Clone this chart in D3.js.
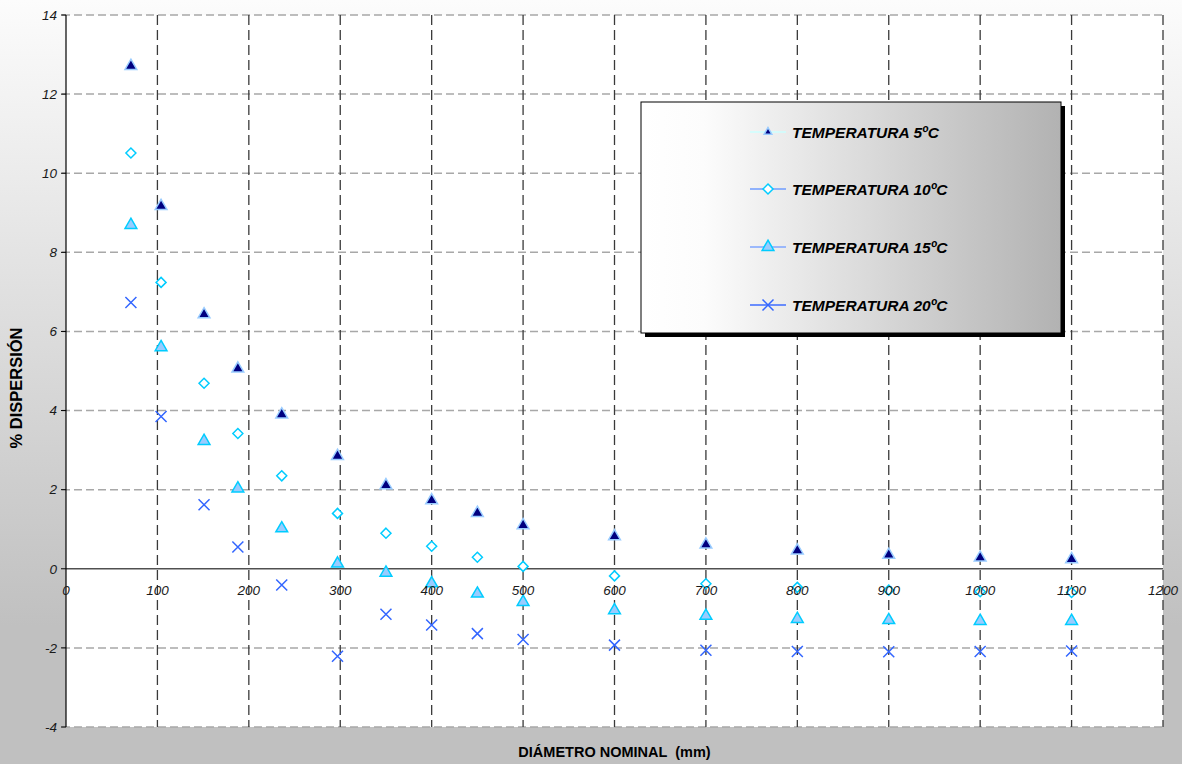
<!DOCTYPE html>
<html>
<head>
<meta charset="utf-8">
<script src="https://cdn.jsdelivr.net/npm/d3@7"></script>
<style>
  body { margin: 0; padding: 0; }
  svg { display: block; font-family: "Liberation Sans", Arial, sans-serif; }
</style>
</head>
<body>
<div class="chart"></div>
<script>
// Data
const diametros = [71, 104, 151, 188, 236, 297, 350, 400, 450, 500, 600, 700, 800, 900, 1000, 1100];
const temp5  = [12.71, 9.17, 6.43, 5.06, 3.90, 2.85, 2.11, 1.73, 1.41, 1.10, 0.82, 0.61, 0.46, 0.35, 0.28, 0.24];
const temp10 = [10.51, 7.24, 4.69, 3.42, 2.35, 1.40, 0.90, 0.57, 0.29, 0.06, -0.18, -0.38, -0.47, -0.54, -0.58, -0.60];
const temp15 = [8.69, 5.60, 3.23, 2.03, 1.02, 0.13, -0.10, -0.37, -0.63, -0.84, -1.05, -1.19, -1.27, -1.30, -1.32, -1.32];
const temp20 = [6.73, 3.85, 1.62, 0.55, -0.41, -2.21, -1.15, -1.42, -1.64, -1.79, -1.93, -2.06, -2.09, -2.10, -2.09, -2.08];
const seriesNames = ['TEMPERATURA 5ºC', 'TEMPERATURA 10ºC', 'TEMPERATURA 15ºC', 'TEMPERATURA 20ºC'];
const xTicks = [0, 100, 200, 300, 400, 500, 600, 700, 800, 900, 1000, 1100, 1200];
const yTicks = [-4, -2, 0, 2, 4, 6, 8, 10, 12, 14];

const W = 1182, H = 764;
const margin = { top: 15, right: 19, bottom: 37, left: 66 };
const width = W - margin.left - margin.right;
const height = H - margin.top - margin.bottom;

const x = d3.scaleLinear([0, 1200], [0, width]);
const y = d3.scaleLinear([-4, 14], [height, 0]);

// Custom symbols
const symbolCross = {
    draw(ctx, size) {
        const r = Math.sqrt(size) / 2;
        ctx.moveTo(-r, -r); ctx.lineTo(r, r);
        ctx.moveTo(r, -r); ctx.lineTo(-r, r);
    }
};
const symbolRhomb = {
    draw(ctx, size) {
        const r = Math.sqrt(size) / 2;
        ctx.moveTo(0, -r); ctx.lineTo(r, 0); ctx.lineTo(0, r); ctx.lineTo(-r, 0); ctx.closePath();
    }
};

const styles = [
    { type: d3.symbolTriangle, size: 60, legendSize: 26, fill: '#000080', stroke: '#99ccff', line: '#ccffff' },
    { type: symbolRhomb, size: 100, legendSize: 100, fill: '#ffffff', stroke: '#00ccff', line: '#6f9cff' },
    { type: d3.symbolTriangle, size: 60, legendSize: 60, fill: '#99ccff', stroke: '#00ccff', line: '#7fa6ff' },
    { type: symbolCross, size: 121, legendSize: 121, fill: 'none', stroke: '#3366ff', line: '#3d6bff' }
];
const values = [temp5, temp10, temp15, temp20];
const series = seriesNames.map((name, i) => ({
    name, style: styles[i],
    points: diametros.map((d, j) => ({ d, v: values[i][j] }))
}));

const root = d3.select('.chart').append('svg')
    .attr('width', W)
    .attr('height', H);

const defs = root.append('defs');
const bg = defs.append('linearGradient').attr('id', 'bg')
    .attr('x1', 0).attr('y1', 0).attr('x2', 0).attr('y2', 1);
bg.append('stop').attr('offset', 0).attr('stop-color', '#fcfcfc');
bg.append('stop').attr('offset', 0.82).attr('stop-color', '#c0c0c0');
bg.append('stop').attr('offset', 1).attr('stop-color', '#c0c0c0');

const lg = defs.append('linearGradient').attr('id', 'lg')
    .attr('x1', 0).attr('y1', 0).attr('x2', 1).attr('y2', 0);
lg.append('stop').attr('offset', 0).attr('stop-color', '#ffffff');
lg.append('stop').attr('offset', 0.15).attr('stop-color', '#fcfcfc');
lg.append('stop').attr('offset', 1).attr('stop-color', '#b2b2b2');

root.append('rect').attr('width', W).attr('height', H).attr('fill', 'url(#bg)');

const svg = root.append('g')
    .attr('transform', `translate(${margin.left}, ${margin.top})`);

svg.append('rect')
    .attr('width', width)
    .attr('height', height)
    .attr('fill', '#ffffff');

// Horizontal grid
svg.selectAll('.hgrid')
    .data(yTicks.filter(d => d !== 0))
    .enter()
    .append('line')
    .attr('class', 'hgrid')
    .attr('x1', -4)
    .attr('x2', width)
    .attr('y1', d => y(d))
    .attr('y2', d => y(d))
    .attr('stroke', '#a8a8a8')
    .attr('stroke-width', 1.5)
    .attr('stroke-dasharray', '8,4');

// Vertical grid
svg.selectAll('.vgrid')
    .data(xTicks.filter(d => d !== 0))
    .enter()
    .append('line')
    .attr('class', 'vgrid')
    .attr('x1', d => x(d))
    .attr('x2', d => x(d))
    .attr('y1', 0)
    .attr('y2', height)
    .attr('stroke', '#3a3a3a')
    .attr('stroke-width', 1.3)
    .attr('stroke-dasharray', '10,5');

// Zero line
svg.append('line')
    .attr('x1', 0).attr('x2', width)
    .attr('y1', y(0)).attr('y2', y(0))
    .attr('stroke', '#505050')
    .attr('stroke-width', 1.5);

// Y axis line + ticks
svg.append('line')
    .attr('x1', 0).attr('x2', 0)
    .attr('y1', 0).attr('y2', height)
    .attr('stroke', '#000000')
    .attr('stroke-width', 1.2);
svg.selectAll('.ytick')
    .data(yTicks)
    .enter()
    .append('line')
    .attr('x1', -5).attr('x2', 0)
    .attr('y1', d => y(d)).attr('y2', d => y(d))
    .attr('stroke', '#000000');

// Points
series.forEach(s => {
    svg.append('g')
        .selectAll('path')
        .data(s.points)
        .enter()
        .append('path')
        .attr('transform', p => `translate(${x(p.d)}, ${y(p.v)})`)
        .attr('d', d3.symbol(s.style.type, s.style.size))
        .attr('fill', s.style.fill)
        .attr('stroke', s.style.stroke)
        .attr('stroke-width', 1.5);
});

// Tick labels (drawn above the points, as in the original)
svg.selectAll('.xlabel')
    .data(xTicks)
    .enter()
    .append('text')
    .attr('x', d => x(d))
    .attr('y', y(0) + 26)
    .attr('text-anchor', 'middle')
    .attr('font-size', 13.5)
    .attr('font-style', 'italic')
    .attr('fill', '#1a1a1a')
    .text(d => d);

svg.selectAll('.ylabel')
    .data(yTicks)
    .enter()
    .append('text')
    .attr('x', -9)
    .attr('y', d => y(d))
    .attr('dy', '0.35em')
    .attr('text-anchor', 'end')
    .attr('font-size', 13.5)
    .attr('font-style', 'italic')
    .attr('fill', '#1a1a1a')
    .text(d => d);

// Axis titles
root.append('text')
    .attr('transform', 'translate(22, 388) rotate(-90)')
    .attr('text-anchor', 'middle')
    .attr('font-size', 16.5)
    .attr('font-weight', 'bold')
    .attr('fill', '#000000')
    .text('% DISPERSIÓN');

root.append('text')
    .attr('x', margin.left + width / 2)
    .attr('y', 757)
    .attr('text-anchor', 'middle')
    .attr('font-size', 14.5)
    .attr('font-weight', 'bold')
    .attr('fill', '#000000')
    .style('white-space', 'pre')
    .text('DIÁMETRO NOMINAL  (mm)');

// Legend
const legend = root.append('g').attr('transform', 'translate(641, 102)');
const lw = 420, lh = 231;
legend.append('rect')
    .attr('x', 4).attr('y', 4)
    .attr('width', lw).attr('height', lh)
    .attr('fill', '#000000');
legend.append('rect')
    .attr('width', lw).attr('height', lh)
    .attr('fill', 'url(#lg)')
    .attr('stroke', '#000000')
    .attr('stroke-width', 1);

const rowY = [30, 87, 145, 203];
series.forEach((s, i) => {
    const row = legend.append('g').attr('transform', `translate(0, ${rowY[i]})`);
    row.append('line')
        .attr('x1', 109).attr('x2', 145)
        .attr('stroke', s.style.line)
        .attr('stroke-width', 1.5);
    row.append('path')
        .attr('transform', 'translate(127, 0)')
        .attr('d', d3.symbol(s.style.type, s.style.legendSize))
        .attr('fill', s.style.fill)
        .attr('stroke', s.style.stroke)
        .attr('stroke-width', 1.5);
    row.append('text')
        .attr('x', 151)
        .attr('dy', '0.36em')
        .attr('font-size', 15.5)
        .attr('font-weight', 'bold')
        .attr('font-style', 'italic')
        .attr('fill', '#000000')
        .text(s.name);
});
</script>
</body>
</html>
